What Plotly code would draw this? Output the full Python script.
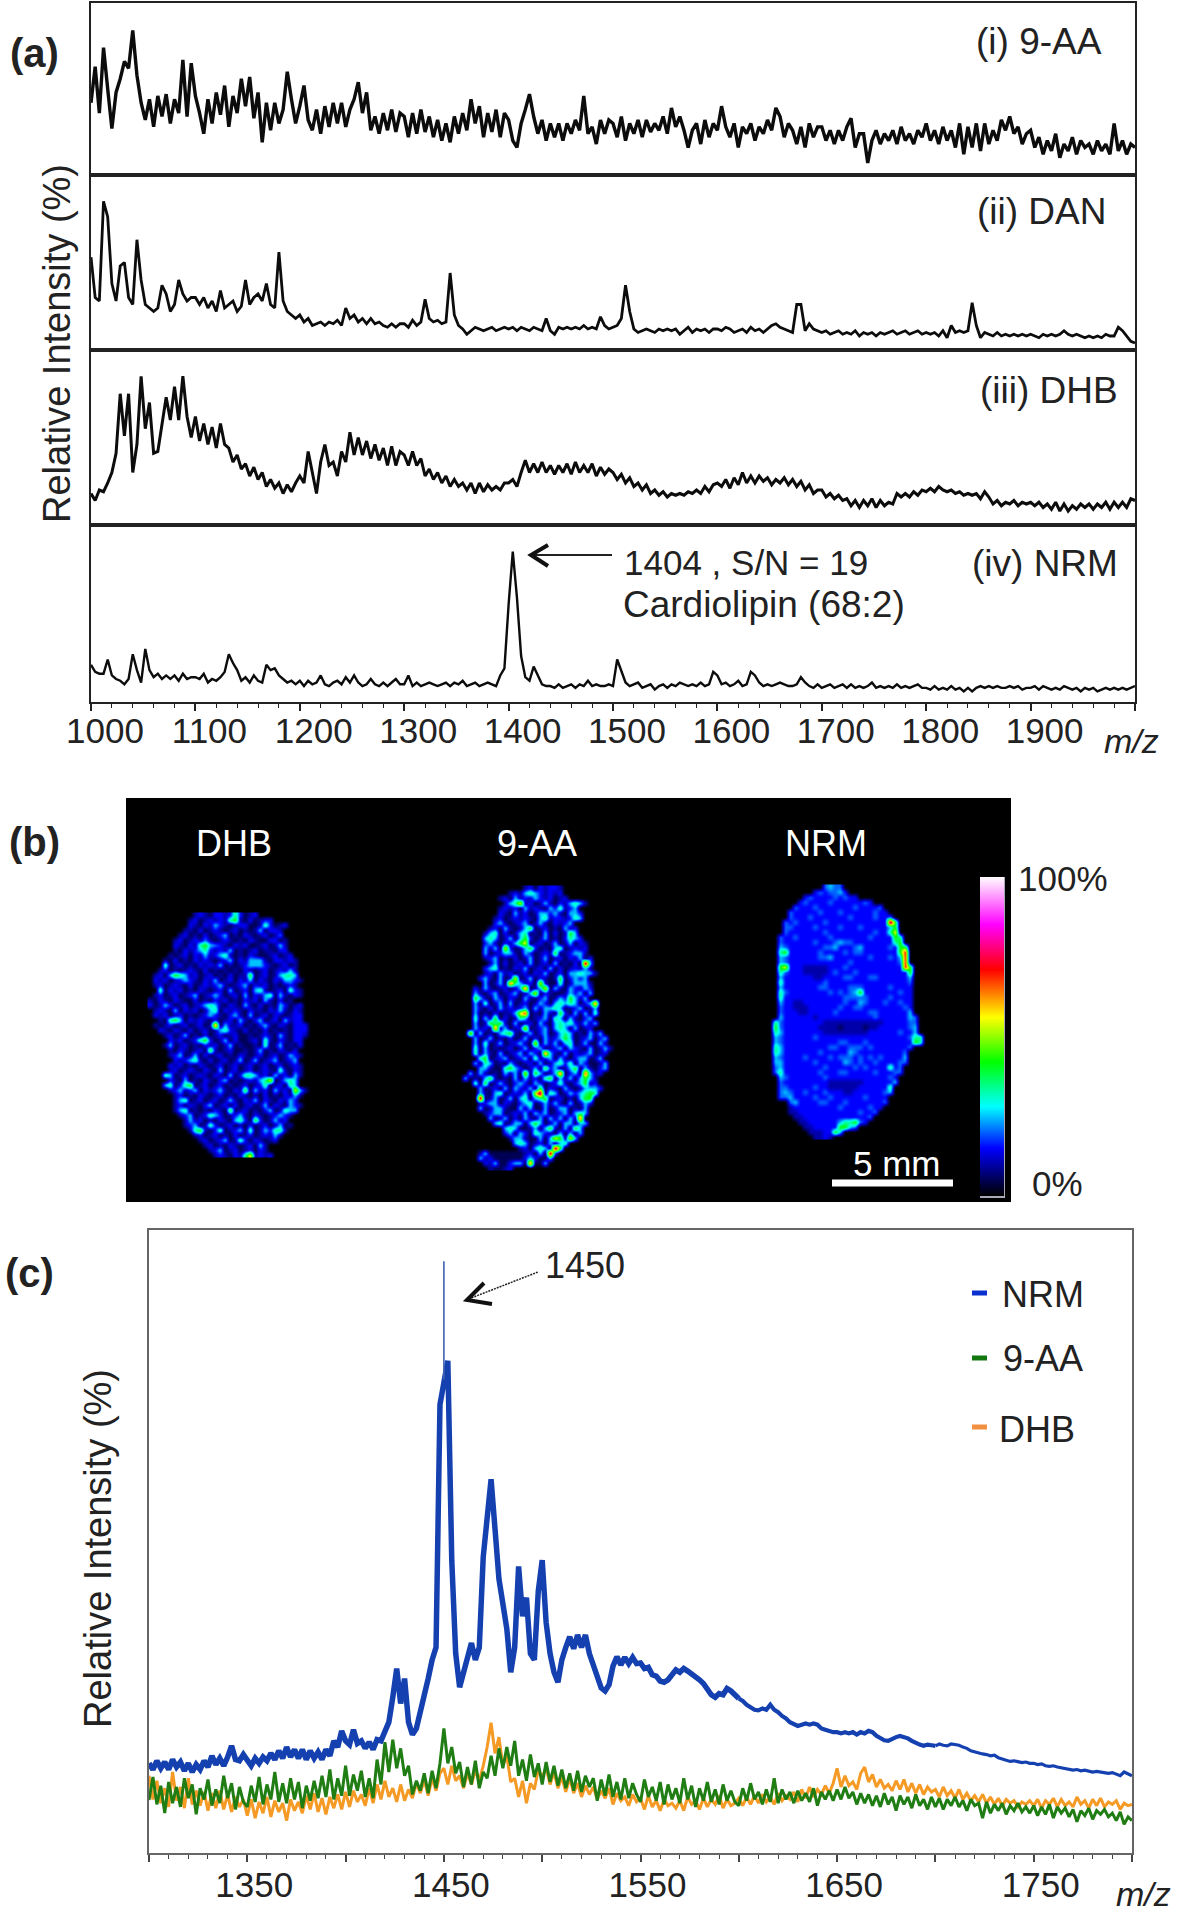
"""Three-panel figure: MALDI spectra per matrix, tissue ion images, overlaid spectra."""
import plotly.graph_objects as go

W, H = 1184, 1920
FONT = "Liberation Sans"
INK = "#222222"

# ---------------------------------------------------------------------------
# Panel (a) - one row per 100 m/z, sampled every 4 m/z, % of the panel height
# ---------------------------------------------------------------------------
A_START, A_STEP = 1000, 4
SPEC_9AA = [
    [42,63,36,74,50,27,48,56,66,62,84,58,42,32,44,28,46,34,47,30,44,36,67,34,65],
    [46,36,24,44,30,48,35,52,28,46,36,56,40,57,33,48,19,42,26,42,30,38,60,44,30],
    [40,52,32,26,38,24,40,28,42,30,42,28,38,44,54,36,48,26,34,24,36,26,38,25,36],
    [34,22,36,24,38,25,34,22,32,20,30,19,34,24,36,26,44,30,40,22,36,25,38,22,36],
    [32,20,16,30,38,47,34,24,32,20,30,22,30,20,30,24,32,26,46,24,28,18,32,24,32],
    [30,22,34,20,30,24,32,22,32,25,30,26,34,24,39,28,34,26,16,26,30,18,32,22,30],
    [26,40,28,22,30,16,28,24,30,20,28,24,32,26,39,34,22,30,26,18,28,16,30,22,28],
    [28,20,26,18,26,20,28,33,16,24,24,7,20,26,18,24,20,26,18,28,20,24,18,26,22],
    [30,20,26,18,28,20,26,16,30,12,28,16,30,14,30,18,26,20,32,26,34,24,28,18,24],
    [26,16,22,12,20,14,24,10,18,14,22,12,20,16,18,12,20,14,18,12,30,14,20,12,18,16],
]
SPEC_DAN = [
    [53,30,28,85,76,38,28,48,50,30,26,63,40,26,24,22,24,37,32,22,26,40,32,28,30],
    [30,26,30,24,28,22,34,24,26,28,22,25,40,26,30,32,28,38,26,24,56,28,22,20,18],
    [20,16,18,14,15,16,14,16,15,17,14,24,18,20,16,18,15,18,15,16,14,13,15,13,15],
    [15,13,17,14,16,29,18,16,17,15,16,44,20,14,12,9,11,13,12,11,12,13,11,12,13],
    [12,13,11,13,12,11,13,12,11,18,11,9,13,12,13,12,13,12,14,12,13,12,19,14,12],
    [13,14,18,37,22,12,10,11,12,11,10,12,11,12,11,12,9,11,13,10,12,11,12,10,12],
    [12,11,13,12,10,11,12,10,13,11,12,10,12,14,15,13,12,11,10,26,26,11,15,12,11],
    [10,11,9,10,11,9,10,9,11,8,10,9,10,8,10,9,10,11,9,10,11,9,10,11,9],
    [10,9,10,8,11,7,14,10,11,10,11,27,14,7,10,9,8,10,8,9,8,9,8,9,8],
    [9,8,7,9,8,9,8,9,11,9,8,9,8,7,8,7,8,7,9,8,8,13,11,8,5,4],
]
SPEC_DHB_A = [
    [18,14,20,19,24,30,41,75,51,75,30,46,85,55,70,41,42,58,73,60,79,60,85,62,50],
    [62,48,58,46,56,44,58,46,44,36,40,32,35,28,33,26,30,22,26,21,24,18,23,19,24],
    [28,24,42,30,18,36,46,34,36,28,42,36,53,40,50,40,48,38,46,37,44,34,45,34,42],
    [40,34,42,34,38,28,32,26,30,24,28,22,26,22,24,20,24,18,24,19,23,20,22,20,24],
    [24,26,22,30,37,30,35,30,36,30,34,29,34,30,35,29,36,30,34,30,35,28,33,29,32],
    [30,26,29,24,27,22,24,20,23,18,20,17,19,16,18,17,18,17,19,18,20,18,22,19,23],
    [24,22,26,21,27,23,30,24,28,24,28,25,27,23,26,24,27,23,26,22,25,20,23,18,20],
    [20,16,18,15,17,14,15,11,14,10,14,11,15,10,14,11,13,12,18,16,18,16,19,17,20],
    [19,21,19,22,20,19,20,18,19,17,18,17,18,15,19,16,12,14,11,13,12,14,11,13,12],
    [13,11,13,10,12,9,13,8,12,8,11,9,12,10,12,9,12,10,13,9,13,10,13,10,15,14],
]
SPEC_NRM_A = [
    [21,17,16,16,24,15,13,12,10,13,27,18,11,30,18,14,16,13,15,13,15,12,16,13,14],
    [14,13,16,11,13,12,14,17,27,22,18,12,14,11,15,12,11,21,18,19,15,13,11,12,10],
    [12,9,12,10,11,15,10,9,11,12,10,14,11,15,11,9,10,13,10,9,11,9,11,13,10],
    [10,15,9,11,9,10,11,10,9,10,11,9,11,10,12,9,10,11,9,10,11,10,9,15,19],
    [55,85,59,26,14,12,20,15,10,9,9,8,10,8,9,10,8,10,9,12,9,10,9,9,10],
    [9,24,17,11,9,10,11,8,9,10,7,9,10,8,10,9,11,10,9,10,9,11,9,10,17],
    [15,10,11,9,10,12,9,10,17,15,11,9,10,9,10,11,10,9,9,10,14,11,9,8,10],
    [8,9,10,8,9,10,8,10,8,9,8,9,11,8,9,8,9,8,10,8,9,8,9,10,8],
    [8,7,9,7,8,7,9,7,8,6,8,6,8,9,8,9,8,9,8,8,9,8,9,7,8],
    [8,9,7,9,8,7,8,7,9,8,7,8,6,8,7,8,6,7,8,7,8,7,8,7,8,9],
]
A_LABELS = [1000, 1100, 1200, 1300, 1400, 1500, 1600, 1700, 1800, 1900]

# ---------------------------------------------------------------------------
# Panel (b) - ion images, one digit per 5 px cell (0 black ... 9 magenta)
# ---------------------------------------------------------------------------
LEVEL_Z = [0, 10, 15, 20, 25, 34, 42, 56, 71, 85]
TISSUE_FLOOR = 5  # dark navy that fills the gaps inside a section

IMG_DHB = [
    "000000000121022125201200000000000",
    "000000001201212156102012200000000",
    "000000002102142101220015201200000",
    "000000011020121012010140221000000",
    "000000120102012401021012013000000",
    "000001201213101210102100220100000",
    "000002102156432102120012014100000",
    "000001021245212140101201102200000",
    "000010120214124510102100120120000",
    "000102010212101240214441022121000",
    "000501201021214010124442101201000",
    "001201012102010101021012012141000",
    "012046541201201020116012014554000",
    "021201242102140120214021021442100",
    "012012102012124101240212010121000",
    "005021201021012040120451012052100",
    "012012012401242012040214504102100",
    "102102100201021201021204102010000",
    "201420120124541021041020104201200",
    "012104021201450212102110214102100",
    "021201201012421024104012021012200",
    "001056402121020120410240120412200",
    "010120120120180411201024102102220",
    "002102102012014521020102010102220",
    "000120140102012012001012104102210",
    "000021201256201402001205102102200",
    "000140120102120140100105014010200",
    "000010210120610120010140102102000",
    "000012401402012010210120120142100",
    "000002124510201201401401240124000",
    "000021201021012012012012012012100",
    "000012012102104012012012105102100",
    "000540120121021040255412041204100",
    "000021040102102401012145701454000",
    "000450256012012010120125012054000",
    "000012412402124102160412041207410",
    "000001201021012010210102010214100",
    "000001450120120141021402102142000",
    "000001202102401202012014021042100",
    "000001450101021060120102401544000",
    "000000124012542012410210124210000",
    "000000014120102104520620141200000",
    "000000012401520120102012014010000",
    "000000001561025012405014255100000",
    "000000000120120102012012141000000",
    "000000000012012401520210120000000",
    "000000000001201021012041000000000",
    "000000000000124012012021000000000",
    "000000000000012102157121200000000",
]
IMG_9AA = [
    "000000000000012021221000000000000",
    "000000000012145421212000000000000",
    "000000001204121421201200000000000",
    "000000000145712014102145410000000",
    "000000001212041210425124000000000",
    "000000002104120144241044200000000",
    "000000012012121045122125400000000",
    "000000024101240141021240000000000",
    "000000120410146012010412000000000",
    "000001450201450104020164000000000",
    "000004540140462014010254200000000",
    "000002410214670120140140210000000",
    "000004140720146201045012120000000",
    "000004012441042012160124410000000",
    "000001240102014014012021402000000",
    "000000140201204012040102094000000",
    "000002450102140120402012141000000",
    "000001204120120214012044544100000",
    "000024104017014021016024240000000",
    "000004014085412071005014441000000",
    "000204101201480147041042142000000",
    "000410240124014702100142404000000",
    "000641042021041024014264140000000",
    "000405014040120142045454024800000",
    "000410204121240414454012401400000",
    "000401020114780104106204040500000",
    "000504160201540124054041024000000",
    "000401656104012041045452141400000",
    "000412081401270124045404012000000",
    "007040104561014024014540104140000",
    "000401401020140204124640124024000",
    "000405014012410704140450140041000",
    "000504010120140240124042104014100",
    "000504104012404208410402124012000",
    "000056012401240512404102440140000",
    "000405401041012040145250420014000",
    "000044100564201406240146041024000",
    "004041010414070640148024084120000",
    "040104610104041205604140464100000",
    "000506014102420420125102461200000",
    "000040120404214060210410144420000",
    "000041045012140790540142456500000",
    "000090140140450456012010466000000",
    "000012440210245014141040142000000",
    "000040144100414004014401040000000",
    "000001244012140424012404540000000",
    "000000401402041040414041800000000",
    "000000045014404640140440440000000",
    "000000000454001404610406400000000",
    "000000000240420542104040400000000",
    "000000000014410040476174000000000",
    "000000000004540120404500000000000",
    "000000000000120454096000000000000",
    "000014000000012040920000000000000",
    "000041200000024200400000000000000",
    "000002140024408004000000000000000",
    "000000100120000000000000000000000",
]
IMG_NRM = [
    "00000000000343300000000000000000",
    "00000000023233420000000000000000",
    "00000002322223232200000000000000",
    "00000023222232222223200000000000",
    "00000322232222222322223000000000",
    "00003222223222322222232200000000",
    "00003222322222223222232230000000",
    "00032322222322222222222296000000",
    "00033222232222322232222246000000",
    "00032222222322222222232257000000",
    "00322322222232222222322226500000",
    "00322222232223433222222225600000",
    "00432222222334222342222232660000",
    "00562222223222232332222222680000",
    "00432222223342222222322232480000",
    "00432222222222223222222222380000",
    "00672221111122232222222222286000",
    "00532221111123222322222222226000",
    "00422222211222233222332222224000",
    "00522222222322222222222222223000",
    "00422222223322223332222232222000",
    "00532222222232323462222222322000",
    "00522222222222233333222232222000",
    "00422112222222232243222322322000",
    "00322111222222322332222222232000",
    "00322211222223222222332222224000",
    "00422222212222222222232222224300",
    "05322222222111111111111222223300",
    "06322222221111011110112222223400",
    "05422222222111111111222222322400",
    "04322222232222222222222222223550",
    "04322222222222332223222222222650",
    "05422222222233223332322222223000",
    "05422222223222224322222222230000",
    "04322223222232333232323222240000",
    "04422222232222243232232222330000",
    "03422222222322222323222252300000",
    "03522222223222332222232223300000",
    "00432222222322222222222232000000",
    "00322222222211111112222224000000",
    "00332222232211111122222250000000",
    "00343223222322211222222340000000",
    "00334222232232222223222200000000",
    "00003422223322232222222300000000",
    "00001222222222322222322000000000",
    "00001122222222222232230000000000",
    "00000112222222222222300000000000",
    "00000011222222455632000000000000",
    "00000001122222664300000000000000",
    "00000000111226400000000000000000",
    "00000000011210000000000000000000",
]

# ---------------------------------------------------------------------------
# Panel (c) - one row per 50 m/z, sampled every 2 m/z, relative intensity %
# ---------------------------------------------------------------------------
C_START, C_STEP = 1300, 2
SPEC_NRM_C = [
    [14.4,13.4,14.8,13.6,14.6,13.4,15.0,13.8,14.6,13.2,14.4,13.0,14.2,13.4,14.8,13.8,15.6,14.2,15.2,14.0,15.4,17.2,15.0,14.8,15.8],
    [15.0,14.0,15.2,14.4,15.4,14.8,16.0,15.0,16.4,15.2,17.0,15.4,16.6,15.2,16.6,15.0,16.4,15.2,16.2,15.0,16.6,15.6,18.0,17.0,19.6],
    [18.0,17.4,19.8,17.6,18.0,16.8,17.8,16.6,18.2,18.0,19.4,21.0,25.0,29.6,24.0,28.0,21.0,19.0,20.0,22.5,25.0,28.0,31.0,33.0,72.0],
    [76.0,79.0,47.0,32.0,26.6,29.0,31.0,33.7,31.0,33.0,47.5,55.0,60.0,52.0,44.0,40.0,36.0,29.0,33.0,46.0,38.0,41.0,32.0,31.0,42.0],
    [47.0,37.0,32.0,29.0,27.4,31.0,33.0,34.7,32.8,35.0,33.0,35.0,32.0,30.0,28.0,26.5,26.0,27.0,30.0,31.5,30.2,31.4,30.4,31.4,30.4],
    [30.5,29.6,29.8,28.6,28.4,27.6,27.4,27.8,28.8,29.4,29.0,29.6,29.2,28.8,28.2,27.8,27.2,26.4,25.4,25.0,25.6,25.4,26.4,26.0,25.4],
    [24.8,24.4,23.8,23.4,23.0,22.9,23.2,23.0,23.8,23.0,22.6,22.0,21.6,21.0,20.6,20.4,20.6,20.8,20.6,20.8,20.6,20.0,19.8,19.6,19.4],
    [19.4,19.2,19.4,19.2,19.4,19.0,19.4,19.2,19.6,19.4,18.8,18.4,18.1,18.0,18.4,18.6,18.8,18.6,18.4,18.0,17.6,17.4,17.2,17.4,17.3],
    [17.2,17.5,17.3,17.2,17.5,17.4,17.3,17.0,16.8,16.4,16.2,16.1,15.9,15.8,15.6,15.7,15.3,15.1,14.9,14.7,14.8,14.7,14.5,14.6,14.4],
    [14.4,14.2,14.3,14.0,13.9,14.0,13.8,13.7,13.6,13.5,13.3,13.4,13.2,13.3,13.1,13.0,13.1,13.0,12.9,12.8,12.9,12.6,12.4,13.0,12.7,12.4],
]
SPEC_9AA_C = [
    [8.5,12.2,7.8,10.8,6.4,11.4,8.0,10.6,7.4,12.0,8.8,11.0,6.2,10.4,8.6,11.8,7.6,10.2,8.0,12.4,8.8,11.2,7.0,10.6,8.2],
    [7.4,10.8,8.2,12.2,7.8,11.0,8.6,13.0,8.2,11.2,8.0,12.0,8.6,11.4,7.2,10.8,8.4,11.6,8.8,12.4,9.0,13.4,8.6,12.0,9.2],
    [14.0,9.2,12.6,10.0,13.2,9.0,12.0,8.8,15.0,11.0,17.8,13.0,18.2,13.6,16.8,12.4,14.0,9.4,11.6,10.0,12.8,9.6,13.2,10.4,14.4],
    [20.0,14.4,17.0,12.8,14.6,10.6,13.8,11.0,14.8,10.4,13.0,12.0,15.6,12.4,16.8,13.6,17.0,14.0,18.0,12.4,15.0,11.6,15.8,12.2,14.4],
    [11.0,14.6,11.4,14.0,10.8,13.4,10.4,12.8,10.0,13.2,9.8,12.4,10.6,12.0,8.4,11.8,9.2,12.6,9.0,11.4,8.6,12.0,8.8,11.2,9.4],
    [8.2,11.8,9.0,10.6,8.4,11.4,7.8,11.0,8.6,10.4,8.0,12.0,8.6,10.8,7.4,10.4,8.4,11.4,8.2,10.2,7.8,11.0,8.4,10.0,8.2],
    [7.6,10.4,8.4,11.2,8.6,9.8,7.8,10.2,8.2,12.0,8.0,10.2,8.6,9.8,8.0,10.0,8.4,9.6,8.2,10.4,7.6,9.8,8.6,10.0,8.4],
    [10.2,8.6,10.6,8.8,9.8,7.8,9.6,8.0,9.4,7.6,9.2,7.4,9.6,7.8,9.0,6.8,9.2,7.8,9.0,7.2,9.4,7.6,8.6,7.0,9.0],
    [7.4,8.8,7.0,8.6,7.6,9.0,7.4,8.4,6.8,8.6,7.6,8.0,5.6,8.2,6.4,7.8,6.8,8.0,6.2,7.6,6.8,8.0,6.6,7.4,6.4],
    [7.6,6.0,7.4,6.2,7.8,5.6,7.4,6.4,7.2,5.8,7.0,5.0,6.8,6.0,7.2,5.4,6.8,6.2,7.0,5.8,6.4,5.2,6.6,4.6,5.8,5.2],
]
SPEC_DHB_C = [
    [12.4,8.6,11.6,8.0,10.4,7.4,13.0,8.4,10.6,7.2,12.0,7.8,10.0,7.6,9.8,6.8,9.6,7.2,10.0,7.0,9.4,6.6,9.0,7.4,8.6],
    [6.0,8.6,5.6,8.2,6.4,9.0,5.8,8.4,6.6,8.0,5.2,8.6,6.8,8.2,6.4,9.2,7.0,9.6,6.6,8.8,6.2,9.0,7.2,9.4,7.0],
    [9.8,7.4,10.0,8.2,9.4,7.6,10.4,8.0,11.0,8.6,11.6,9.0,10.4,8.2,11.0,8.4,10.2,8.8,11.2,9.6,11.8,9.2,12.0,10.0,12.8],
    [13.6,11.0,14.0,11.6,12.4,10.4,12.8,11.0,13.2,11.6,14.0,17.0,20.9,16.0,18.6,14.0,15.6,11.4,12.0,9.0,11.6,8.0,11.2,10.2,13.4],
    [12.2,13.6,11.0,13.0,10.4,12.2,9.8,12.0,9.6,11.2,9.0,10.8,9.4,10.6,8.6,10.0,8.8,10.4,7.8,9.6,8.4,9.0,7.6,9.4,8.2],
    [8.8,7.0,9.2,7.4,8.4,6.8,8.6,7.6,8.0,7.2,8.4,6.8,9.0,7.8,8.4,7.0,8.8,7.4,8.6,7.8,9.2,7.2,8.6,7.6,8.0],
    [8.8,7.6,9.0,7.8,9.2,8.0,9.4,8.2,9.0,7.8,9.6,8.4,9.2,8.6,9.8,8.2,10.2,8.8,10.6,9.0,10.2,9.4,10.8,9.6,11.2],
    [13.6,10.6,12.4,10.8,11.4,10.2,12.8,13.8,11.4,12.6,10.6,11.8,10.4,11.0,10.0,11.6,10.2,11.8,9.8,11.2,9.6,11.0,9.4,10.6,9.8],
    [10.2,9.0,10.6,9.2,10.0,8.8,10.2,8.6,9.6,8.4,9.2,8.2,9.4,8.0,9.0,7.8,8.8,7.6,8.6,8.0,8.4,7.4,8.2,7.8,8.4],
    [7.6,8.6,7.2,8.4,7.8,8.8,7.4,8.6,7.6,8.2,7.4,9.0,7.8,8.4,7.2,8.6,7.6,8.8,7.4,8.2,7.8,8.4,7.0,8.0,7.6,7.8],
]
# thin apex of the base peak above the saturated blue column
APEX_MZ = [1450, 1450]
APEX_Y = [76, 95]
C_TICKS = [1300, 1350, 1400, 1450, 1500, 1550, 1600, 1650, 1700, 1750, 1800]
C_LABELS = [1350, 1450, 1550, 1650, 1750]

COL_NRM = "#1440b0"
COL_9AA = "#1f7d14"
COL_DHB = "#f59a25"


def flat(rows):
    return [v for r in rows for v in r]


def mz(start, step, ys):
    return [start + i * step for i in range(len(ys))]


def fx(x):
    return x / W


def fy(y):
    return 1 - y / H


def note(text, x, y, size=35, anchor="center", color=INK, angle=0, bold=False):
    return dict(text=f"<b>{text}</b>" if bold else text, x=fx(x), y=fy(y), xref="paper", yref="paper",
                showarrow=False, xanchor=anchor, yanchor="middle", textangle=angle,
                font=dict(family=FONT, size=size, color=color))


def seg(path, color=INK, width=2, dash=None):
    return dict(type="path", path=path, xref="paper", yref="paper",
                line=dict(color=color, width=width, dash=dash or "solid"))


def pts(*xy):
    return "M " + " L ".join(f"{fx(x):.5f},{fy(y):.5f}" for x, y in xy)


def image_z(rows):
    # digits to z, with a dark floor between the first and last lit cell of each row
    z = []
    for r in rows:
        lit = [i for i, c in enumerate(r) if c != "0"]
        z.append([max(LEVEL_Z[int(c)], TISSUE_FLOOR if lit and lit[0] <= i <= lit[-1] else 0)
                  for i, c in enumerate(r)])
    return z


fig = go.Figure()

# ---------------------------------------------------------------------------
# (a) four stacked spectra
# ---------------------------------------------------------------------------
A_L, A_R = 91, 1135
A_EDGES = [3, 175, 350, 525, 702]
A_SERIES = [(SPEC_9AA, 3.4), (SPEC_DAN, 2.8), (SPEC_DHB_A, 3.0), (SPEC_NRM_A, 2.4)]
layout_axes = {}
for i, (rows, lw) in enumerate(A_SERIES):
    n = "" if i == 0 else str(i + 1)
    ys = flat(rows)
    fig.add_trace(go.Scatter(x=mz(A_START, A_STEP, ys), y=ys, mode="lines", xaxis=f"x{n}", yaxis=f"y{n}",
                             line=dict(color="#0c0c0c", width=lw), showlegend=False))
    xa = dict(domain=[fx(A_L), fx(A_R)], range=[1000, 2000], anchor=f"y{n}", showgrid=False, zeroline=False,
              showline=True, mirror=True, linecolor=INK, linewidth=2, ticks="", showticklabels=False)
    if i == 3:
        xa.update(ticks="outside", ticklen=7, tickwidth=1.5, tickcolor=INK, showticklabels=True,
                  tickvals=A_LABELS + [2000], ticktext=[str(v) for v in A_LABELS] + [""],
                  ticklabelshift=14, ticklabelstandoff=-10,
                  tickfont=dict(family=FONT, size=35, color=INK),
                  minor=dict(ticks="outside", ticklen=4, tickwidth=1.2, tickcolor=INK, dtick=20, tick0=1000))
    ya = dict(domain=[fy(A_EDGES[i + 1]), fy(A_EDGES[i])], range=[0, 100], anchor=f"x{n}", showgrid=False,
              zeroline=False, showline=True, mirror=True, linecolor=INK, linewidth=2, ticks="",
              showticklabels=False)
    layout_axes[f"xaxis{n}"] = xa
    layout_axes[f"yaxis{n}"] = ya

# ---------------------------------------------------------------------------
# (b) ion images on a black pixel-scaled plate
# ---------------------------------------------------------------------------
B_L, B_R, B_T, B_B = 126, 1011, 798, 1202
for rows, left, top in [(IMG_DHB, 150, 915), (IMG_9AA, 460, 888), (IMG_NRM, 770, 887)]:
    fig.add_trace(go.Heatmap(z=image_z(rows), x0=left, dx=5, y0=top, dy=5, xaxis="x6", yaxis="y6",
                             zsmooth="best", coloraxis="coloraxis"))
layout_axes["xaxis6"] = dict(domain=[fx(B_L), fx(B_R)], range=[B_L, B_R], anchor="y6", visible=False)
layout_axes["yaxis6"] = dict(domain=[fy(B_B), fy(B_T)], range=[B_B, B_T], anchor="x6", visible=False)

# ---------------------------------------------------------------------------
# (c) overlaid spectra
# ---------------------------------------------------------------------------
C_L, C_R, C_T, C_B = 149, 1132, 1230, 1853
for rows, col, lw in [(SPEC_DHB_C, COL_DHB, 3.0), (SPEC_9AA_C, COL_9AA, 3.0)]:
    ys = flat(rows)
    fig.add_trace(go.Scatter(x=mz(C_START, C_STEP, ys), y=ys, mode="lines", xaxis="x5", yaxis="y5",
                             line=dict(color=col, width=lw), showlegend=False))
# the blue trace gets thinner towards high m/z, so it is drawn in three stretches
nrm_y = flat(SPEC_NRM_C)
nrm_x = mz(C_START, C_STEP, nrm_y)
for a, b, lw in [(0, 151, 5.5), (150, 201, 4.2), (200, 251, 3.2)]:
    fig.add_trace(go.Scatter(x=nrm_x[a:b], y=nrm_y[a:b], mode="lines", xaxis="x5", yaxis="y5",
                             line=dict(color=COL_NRM, width=lw), showlegend=False))
fig.add_trace(go.Scatter(x=APEX_MZ, y=APEX_Y, mode="lines", xaxis="x5", yaxis="y5",
                         line=dict(color="#3f62b0", width=1.6), showlegend=False))
layout_axes["xaxis5"] = dict(domain=[fx(C_L), fx(C_R)], range=[1300, 1800], anchor="y5", showgrid=False,
                             zeroline=False, showline=True, mirror=True, linecolor="#666666", linewidth=2,
                             ticks="outside", ticklen=7, tickwidth=1.5, tickcolor="#444444",
                             tickvals=C_TICKS, ticktext=[str(v) if v in C_LABELS else "" for v in C_TICKS],
                             ticklabelshift=7, ticklabelstandoff=-7,
                             tickfont=dict(family=FONT, size=35, color=INK),
                             minor=dict(ticks="outside", ticklen=4, tickwidth=1.2, tickcolor="#444444",
                                        dtick=10, tick0=1300))
layout_axes["yaxis5"] = dict(domain=[fy(C_B), fy(C_T)], range=[0, 100], anchor="x5", showgrid=False,
                             zeroline=False, showline=True, mirror=True, linecolor="#666666", linewidth=2,
                             ticks="", showticklabels=False)

annotations = [
    note("(a)", 34, 53, 40, bold=True), note("(b)", 34, 842, 40, bold=True), note("(c)", 29, 1273, 40, bold=True),
    note("Relative Intensity (%)", 57, 344, 38, angle=-90),
    note("(i) 9-AA", 1104, 42, 37, "right"), note("(ii) DAN", 1108, 212, 37, "right"),
    note("(iii) DHB", 1120, 390, 37, "right"), note("(iv) NRM", 1120, 563, 37, "right"),
    note("1404 , S/N = 19", 622, 562, 35, "left"), note("Cardiolipin (68:2)", 621, 604, 37, "left"),
    note("<i>m/z</i>", 1131, 741, 34),
    note("DHB", 234, 843, 36, color="white"), note("9-AA", 537, 843, 36, color="white"),
    note("NRM", 826, 843, 36, color="white"), note("5 mm", 897, 1163, 35, color="white"),
    note("100%", 1063, 879, 35), note("0%", 1057, 1183, 35),
    note("Relative Intensity (%)", 98, 1549, 38, angle=-90),
    note("1450", 585, 1265, 36),
    note("NRM", 1043, 1294, 36), note("9-AA", 1043, 1358, 36), note("DHB", 1037, 1429, 36),
    note("<i>m/z</i>", 1143, 1894, 34),
]

shapes = [
    dict(type="rect", xref="paper", yref="paper", x0=fx(B_L), x1=fx(B_R), y0=fy(B_B), y1=fy(B_T),
         fillcolor="black", line=dict(width=0), layer="below"),
    # 5 mm bar and the grey edge of the colour strip
    seg(pts((832, 1183), (953, 1183)), "white", 7),
    seg(pts((980, 1197), (1004, 1197), (1004, 877)), "#a8a8b8", 2),
    # 1404 arrow
    seg(pts((530, 555), (612, 555)), INK, 1.8),
    seg(pts((548, 545), (531, 555), (548, 566)), "#111111", 4),
    # 1450 arrow
    seg(pts((466, 1300), (538, 1272)), INK, 1.5, "2px,1px"),
    seg(pts((484, 1283), (467, 1300), (492, 1304)), "#111111", 4),
    # legend dashes
    seg(pts((972, 1293), (987, 1293)), "#0a30d0", 5),
    seg(pts((972, 1358), (987, 1358)), "#13770f", 5),
    seg(pts((972, 1427), (987, 1427)), "#f09040", 5),
]

fig.update_layout(
    width=W, height=H, margin=dict(l=0, r=0, t=0, b=0, autoexpand=False),
    paper_bgcolor="white", plot_bgcolor="rgba(0,0,0,0)", showlegend=False,
    font=dict(family=FONT, color=INK),
    annotations=annotations, shapes=shapes,
    coloraxis=dict(
        cmin=0, cmax=100,
        colorscale=[[0, "#000000"], [0.15, "#0000ff"], [0.28, "#00ffff"], [0.42, "#00ff00"],
                    [0.56, "#ffff00"], [0.71, "#ff0000"], [0.85, "#ff00ff"], [1, "#ffffff"]],
        colorbar=dict(x=fx(980), xanchor="left", y=fy(877), yanchor="top", len=319 / H, thickness=24,
                      thicknessmode="pixels", ticks="", showticklabels=False, outlinewidth=0,
                      xpad=0, ypad=0, borderwidth=0),
    ),
    **layout_axes,
)

fig.write_html("out.html", config={"displayModeBar": False}, post_script="document.body.style.margin='0';")
